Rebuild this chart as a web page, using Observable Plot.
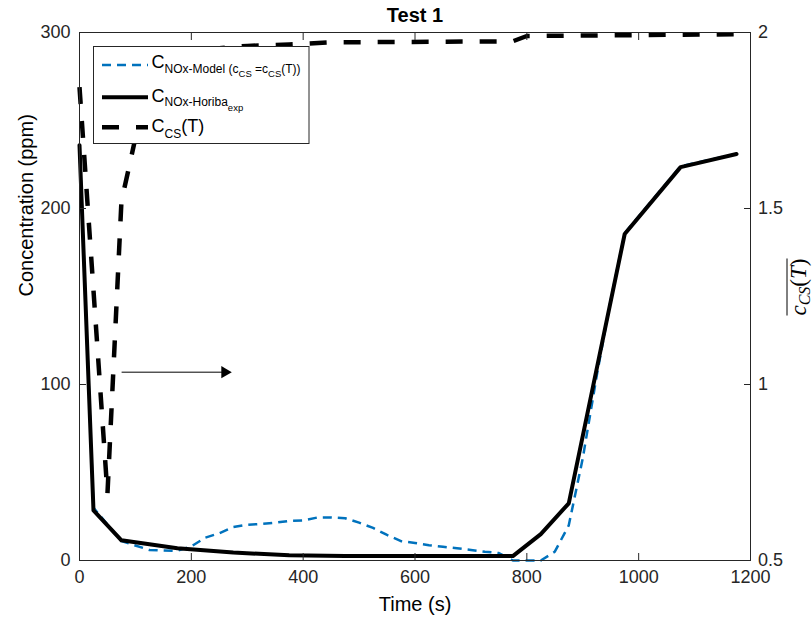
<!DOCTYPE html>
<html><head><meta charset="utf-8">
<script src="https://cdn.jsdelivr.net/npm/d3@7"></script>
<script src="https://cdn.jsdelivr.net/npm/@observablehq/plot@0.6"></script>
<style>body{margin:0;background:#fff;} svg{display:block}</style>
</head><body><div id="chart"></div>
<script>
// ---- data ----
const modelTime = [0, 25, 75, 125, 175, 200, 225, 250, 275, 300, 325, 350, 375, 400, 425, 450, 475, 500, 525, 550, 575, 600, 625, 650, 675, 700, 725, 750, 775, 800, 825, 850, 875, 900, 925, 950, 975, 1075, 1175];
const modelNOx  = [236, 30, 11, 6, 5.5, 8, 13, 15.5, 19, 20.3, 20.8, 21.5, 22.5, 22.8, 24.4, 24.5, 24, 21.5, 18.5, 14.5, 11, 10, 8.7, 7.8, 7, 6, 5, 4.2, 0, 0, 0, 5, 20, 58, 105, 148, 186, 224, 231];
const horibaTime = [0, 25, 75, 175, 275, 375, 475, 575, 675, 775, 825, 875, 975, 1075, 1175];
const horibaNOx  = [236, 28.5, 11.5, 7, 4.5, 3, 2.5, 2.5, 2.5, 2.5, 15, 32.5, 185.5, 223.5, 231];
const ccsTime  = [0, 50, 75, 100, 125, 150, 200, 250, 300, 375, 450, 775, 800, 1175];
const ccsValue = [1.845, 0.69, 1.52, 1.70, 1.80, 1.87, 1.93, 1.955, 1.962, 1.966, 1.972, 1.975, 1.99, 1.995];
const xTicks = [0, 200, 400, 600, 800, 1000, 1200];
const yTicksLeft = [0, 100, 200, 300];
const yTicksRight = [0.5, 1, 1.5, 2];
const arrowAnnot = [{t1: 76, t2: 267, c: 107}];
const titleText = "Test 1";
const xLabel = "Time (s)";
const yLabel = "Concentration (ppm)";
const legendItems = [
  {stroke: "#0072BD", width: 2.5, dash: "9,6", parts: [["C",18,0],["NOx-Model (c",12,5],["CS",9.5,9],[" =c",12,5],["CS",9.5,9],["(T))",12,5]]},
  {stroke: "black", width: 4, dash: null, parts: [["C",18,0],["NOx-Horiba",12,4.5],["exp",9.5,9]]},
  {stroke: "black", width: 4.5, dash: "17,17", parts: [["C",18,0],["CS",12,6],["(T)",18,0]]}
];
const rightLabelParts = [["c","italic",23,0],["CS","italic",16,4],["(","normal",23,0],["T","italic",23,0],[")","normal",23,0]];

// ---- build ----
const model = modelTime.map((t, i) => ({t, v: modelNOx[i]}));
const horiba = horibaTime.map((t, i) => ({t, v: horibaNOx[i]}));
const ccs = ccsTime.map((t, i) => ({t, v: ccsValue[i]}));
const rMin = 0.5, rMax = 2, lMax = 300;
const toLeft = v => (v - rMin) / (rMax - rMin) * lMax;
const fromLeft = p => p / lMax * (rMax - rMin) + rMin;
const font = "'Liberation Sans', Arial, Helvetica, sans-serif";
const serif = "'Liberation Serif', 'DejaVu Serif', 'Times New Roman', serif";

const plot = Plot.plot({
  width: 812, height: 624,
  marginLeft: 79, marginRight: 62, marginTop: 32, marginBottom: 64,
  style: {fontFamily: font, fontSize: "18px", color: "#262626", background: "white"},
  x: {domain: [0, 1200], label: null},
  y: {domain: [0, 300], label: null},
  marks: [
    Plot.line(model, {x: "t", y: "v", stroke: "#0072BD", strokeWidth: 2.5, strokeDasharray: "9,6", strokeLinecap: "butt"}),
    Plot.line(horiba, {x: "t", y: "v", stroke: "black", strokeWidth: 4}),
    Plot.line(ccs, {x: "t", y: d => toLeft(d.v), stroke: "black", strokeWidth: 4.5, strokeDasharray: "17,17", strokeLinecap: "butt"}),
    Plot.arrow(arrowAnnot, {x1: "t1", x2: "t2", y1: "c", y2: "c", stroke: "black", strokeWidth: 1, headLength: 10}),
    Plot.dot(arrowAnnot, {x: "t2", y: "c", symbol: "triangle", rotate: 90, r: 4.5, fill: "black", dx: -4}),
    Plot.frame({stroke: "#262626"}),
    Plot.axisX(xTicks, {anchor: "bottom", tickSize: -7, tickPadding: 17, tickFormat: d => String(d), label: null}),
    Plot.axisX(xTicks, {anchor: "top", tickSize: -7, tickFormat: () => "", label: null}),
    Plot.axisY(yTicksLeft, {anchor: "left", tickSize: -7, tickPadding: 16, tickFormat: d => String(d), label: null}),
    Plot.axisY(yTicksRight.map(toLeft), {anchor: "right", tickSize: -7, tickPadding: 14.5, tickFormat: d => String(fromLeft(d)), label: null}),
    Plot.text([titleText], {frameAnchor: "top", dy: -25, fontWeight: "bold", fontSize: 20, fill: "black"}),
    Plot.text([xLabel], {frameAnchor: "bottom", dy: 50, fontSize: 20, fill: "black"}),
    Plot.text([yLabel], {frameAnchor: "left", dx: -53, rotate: -90, fontSize: 20, fill: "black"})
  ]
});
document.getElementById("chart").append(plot);

const svg = d3.select(plot);
// legend
const lg = svg.append("g").attr("font-family", font).attr("fill", "black").attr("text-anchor", "start");
lg.append("rect").attr("x", 93.5).attr("y", 46.5).attr("width", 215.5).attr("height", 97)
  .attr("fill", "white").attr("stroke", "#262626").attr("stroke-width", 1);
const sampleY = [65, 97.3, 127.3];
const textY = [68.3, 101.7, 131.7];
legendItems.forEach((it, i) => {
  lg.append("line").attr("x1", 102).attr("x2", 148).attr("y1", sampleY[i]).attr("y2", sampleY[i])
    .attr("stroke", it.stroke).attr("stroke-width", it.width)
    .attr("stroke-dasharray", it.dash).attr("stroke-linecap", "butt");
  const t = lg.append("text").attr("x", 151.5).attr("y", textY[i]).attr("text-anchor", "start").style("white-space", "pre");
  let prev = 0;
  it.parts.forEach(([s, size, shift]) => {
    t.append("tspan").attr("dy", shift - prev).attr("font-size", size).text(s);
    prev = shift;
  });
});
// right axis label (overlined)
const rg = svg.append("g").attr("transform", "translate(806,287) rotate(-90)");
const rt = rg.append("text").attr("text-anchor", "middle").attr("font-family", serif).attr("fill", "black");
let prevShift = 0;
rightLabelParts.forEach(([s, style, size, shift]) => {
  rt.append("tspan").attr("dy", shift - prevShift).attr("font-style", style).attr("font-size", size).text(s);
  prevShift = shift;
});
const bb = rt.node().getBBox();
rg.append("line").attr("x1", bb.x).attr("x2", bb.x + bb.width).attr("y1", bb.y + 1).attr("y2", bb.y + 1)
  .attr("stroke", "black").attr("stroke-width", 1);
</script>
</body></html>
